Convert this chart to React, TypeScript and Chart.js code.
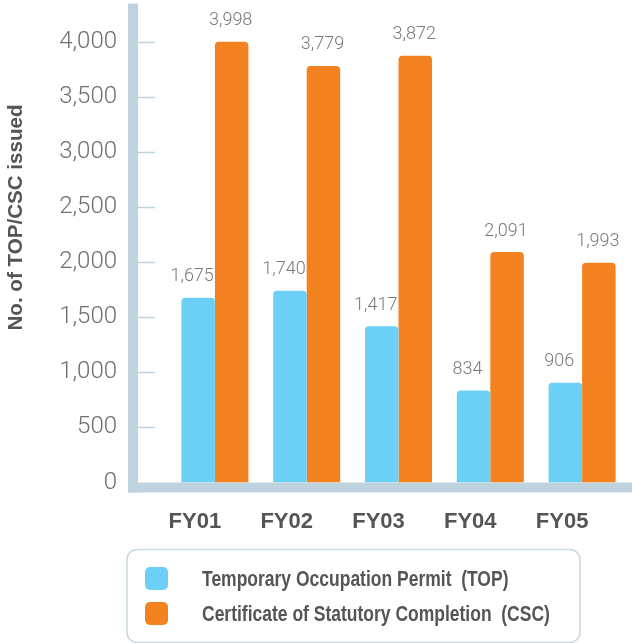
import React, { useEffect, useRef } from "react";
import { Chart, registerables } from "chart.js";

Chart.register(...registerables);

const categories = ["FY01", "FY02", "FY03", "FY04", "FY05"];
const topValues = [1675, 1740, 1417, 834, 906];
const cscValues = [3998, 3779, 3872, 2091, 1993];
const seriesNames = [
  "Temporary Occupation Permit  (TOP)",
  "Certificate of Statutory Completion  (CSC)",
];
const seriesColors = ["#6ccff6", "#f48220"];
const axisTitle = "No. of TOP/CSC issued";
const yTickValues = [0, 500, 1000, 1500, 2000, 2500, 3000, 3500, 4000];
const yMax = 4300;

const BAND = "#bfd3de";
const BOLD = "'Liberation Sans', Arial, sans-serif";
const LIGHT = "Roboto, 'DejaVu Sans', sans-serif";

function fmt(v: number) {
  return v.toLocaleString("en-US");
}

function roundRect(ctx: CanvasRenderingContext2D, x: number, y: number, w: number, h: number, r: number) {
  ctx.beginPath();
  ctx.moveTo(x + r, y);
  ctx.lineTo(x + w - r, y);
  ctx.arcTo(x + w, y, x + w, y + r, r);
  ctx.lineTo(x + w, y + h - r);
  ctx.arcTo(x + w, y + h, x + w - r, y + h, r);
  ctx.lineTo(x + r, y + h);
  ctx.arcTo(x, y + h, x, y + h - r, r);
  ctx.lineTo(x, y + r);
  ctx.arcTo(x, y, x + r, y, r);
  ctx.closePath();
}

const decorPlugin = {
  id: "decor",
  beforeDatasetsDraw(chart: any) {
    const { ctx, chartArea: a } = chart;
    const y = chart.scales.y;
    const zeroY = y.getPixelForValue(0);
    const bandL = a.left - 41;
    ctx.save();
    ctx.fillStyle = BAND;
    ctx.fillRect(bandL, a.top - 5, 10, zeroY + 10 - (a.top - 5));
    ctx.fillRect(bandL, zeroY, chart.width - bandL, 10);
    ctx.strokeStyle = BAND;
    ctx.lineWidth = 1.5;
    y.ticks.forEach((t: any) => {
      if (t.value === 0) return;
      const py = Math.round(y.getPixelForValue(t.value)) + 0.5;
      ctx.beginPath();
      ctx.moveTo(bandL + 10, py);
      ctx.lineTo(bandL + 27, py);
      ctx.stroke();
    });
    // axis title
    ctx.fillStyle = "#555555";
    ctx.font = `bold 21px ${BOLD}`;
    ctx.textAlign = "center";
    ctx.textBaseline = "middle";
    ctx.translate(a.left - 153, (a.top + zeroY) / 2 - 28);
    ctx.rotate(-Math.PI / 2);
    ctx.scale(0.98, 1);
    ctx.fillText(axisTitle, 0, 0);
    ctx.restore();
  },
  afterDatasetsDraw(chart: any) {
    const { ctx } = chart;
    ctx.save();
    ctx.fillStyle = "#7a7a7a";
    ctx.font = `300 18px ${LIGHT}`;
    ctx.textAlign = "center";
    ctx.textBaseline = "middle";
    chart.data.datasets.forEach((ds: any, di: number) => {
      const meta = chart.getDatasetMeta(di);
      meta.data.forEach((bar: any, i: number) => {
        ctx.fillText(fmt(ds.data[i]), bar.x - (di === 0 ? 6 : 1), bar.y - 21);
      });
    });
    ctx.restore();
  },
  afterDraw(chart: any) {
    const { ctx, chartArea: a } = chart;
    const zeroY = chart.scales.y.getPixelForValue(0);
    const bx = a.left - 42;
    const by = zeroY + 67;
    ctx.save();
    ctx.strokeStyle = "#c8d9e3";
    ctx.lineWidth = 1.5;
    roundRect(ctx, bx, by, 453, 93, 10);
    ctx.stroke();
    chart.data.datasets.forEach((ds: any, i: number) => {
      const cy = by + 29 + i * 35;
      ctx.fillStyle = ds.backgroundColor;
      roundRect(ctx, bx + 18, cy - 11.5, 23, 23, 5);
      ctx.fill();
      ctx.fillStyle = "#555555";
      ctx.font = `bold 22px ${BOLD}`;
      ctx.textAlign = "left";
      ctx.textBaseline = "middle";
      ctx.save();
      ctx.translate(bx + 75, cy + 1);
      ctx.scale(0.795, 1);
      ctx.fillText(ds.label, 0, 0);
      ctx.restore();
    });
    ctx.restore();
  },
};

export default function App() {
  const ref = useRef<HTMLCanvasElement | null>(null);
  useEffect(() => {
    if (!ref.current) return;
    const chart = new Chart(ref.current, {
      type: "bar",
      data: {
        labels: categories,
        datasets: [
          {
            label: seriesNames[0],
            data: topValues,
            backgroundColor: seriesColors[0],
            borderRadius: { topLeft: 4, topRight: 4, bottomLeft: 0, bottomRight: 0 },
            borderSkipped: false,
          },
          {
            label: seriesNames[1],
            data: cscValues,
            backgroundColor: seriesColors[1],
            borderRadius: { topLeft: 4, topRight: 4, bottomLeft: 0, bottomRight: 0 },
            borderSkipped: false,
          },
        ],
      },
      options: {
        responsive: false,
        animation: false,
        devicePixelRatio: 1,
        layout: { padding: { top: 8.5, right: 4, bottom: 108.5, left: 0 } },
        datasets: { bar: { barPercentage: 1, categoryPercentage: 0.73 } },
        plugins: {
          legend: { display: false },
          tooltip: { enabled: false },
        },
        scales: {
          x: {
            offset: true,
            grid: { display: false, drawTicks: false },
            border: { display: false },
            ticks: {
              color: "#555555",
              font: { family: BOLD, size: 22, weight: "bold" },
              padding: 26,
              labelOffset: -20,
              maxRotation: 0,
            },
            afterFit(scale: any) {
              scale.height = 52;
              scale.paddingLeft = 0;
              scale.paddingRight = 0;
            },
          },
          y: {
            min: 0,
            max: yMax,
            grid: { display: false, drawTicks: false },
            border: { display: false },
            afterBuildTicks(scale: any) {
              scale.ticks = yTickValues.map((v) => ({ value: v }));
            },
            ticks: {
              autoSkip: false,
              color: "#6e6e6e",
              font: { family: LIGHT, size: 24, weight: "300" },
              padding: 52,
              callback: (v: any) => fmt(Number(v)),
            },
            afterFit(scale: any) {
              scale.width = 169;
              scale.paddingTop = 0;
              scale.paddingBottom = 0;
            },
          },
        },
      },
      plugins: [decorPlugin],
    });
    return () => chart.destroy();
  }, []);
  return (
    <div style={{ position: "fixed", left: 0, top: 0, width: 632, height: 643, background: "#ffffff" }}>
      <canvas ref={ref} width={632} height={643} style={{ width: 632, height: 643, display: "block" }} />
    </div>
  );
}
